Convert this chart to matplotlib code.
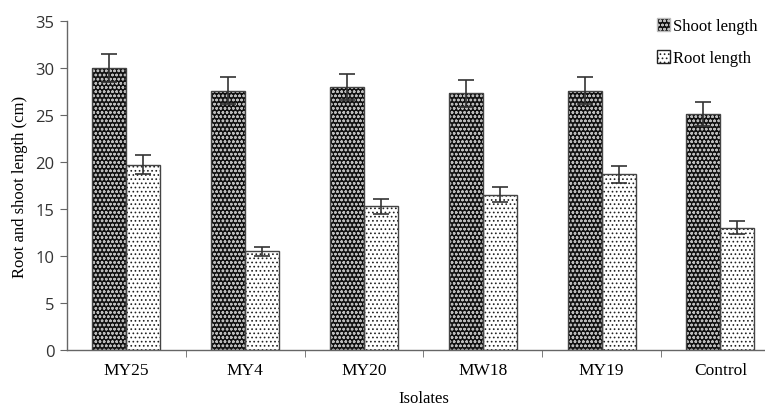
import matplotlib
matplotlib.use("Agg")
import matplotlib.pyplot as plt
import numpy as np
from matplotlib.patches import Patch

categories = ["MY25", "MY4", "MY20", "MW18", "MY19", "Control"]
shoot = [30.0, 27.6, 28.0, 27.3, 27.6, 25.1]
shoot_err = [1.5, 1.4, 1.4, 1.4, 1.4, 1.3]
root = [19.7, 10.5, 15.3, 16.5, 18.7, 13.0]
root_err = [1.0, 0.5, 0.8, 0.8, 0.9, 0.7]

plt.rcParams['hatch.linewidth'] = 0.7
fig = plt.figure(figsize=(7.65, 4.06), dpi=100)
W = 118.8
ax = fig.add_axes([67/765, 55/406, 6*W/765, 329/406])

x = np.arange(len(categories))
bw = 0.286
# shoot bars: dark with light pattern
ax.bar(x - bw/2, shoot, bw, color='#111111', edgecolor='#bbbbbb', hatch='oooo', linewidth=0, zorder=2)
ax.bar(x - bw/2, shoot, bw, fill=False, edgecolor='#444444', linewidth=1.0, zorder=3)
# root bars: white with dots
ax.bar(x + bw/2, root, bw, color='white', edgecolor='#222222', hatch='....', linewidth=0, zorder=2)
ax.bar(x + bw/2, root, bw, fill=False, edgecolor='#444444', linewidth=1.0, zorder=3)

ax.errorbar(x - bw/2, shoot, yerr=shoot_err, fmt='none', ecolor='#333333', elinewidth=1.2, capsize=6, capthick=1.2, zorder=4)
ax.errorbar(x + bw/2, root, yerr=root_err, fmt='none', ecolor='#333333', elinewidth=1.2, capsize=6, capthick=1.2, zorder=4)

ax.set_xlim(-0.5, len(categories) - 0.5)
ax.set_ylim(0, 35)
ax.set_yticks(range(0, 36, 5))
ax.set_xticks(x)
ax.set_xticklabels(categories, fontfamily='Liberation Serif', fontsize=12.5)
ax.set_xticks(np.arange(0.5, len(categories) - 0.5, 1), minor=True)
ax.tick_params(axis='x', which='major', length=0, pad=9)
ax.tick_params(axis='x', which='minor', length=5, color='#666666', direction='out')
ax.tick_params(axis='y', length=5, color='#666666', labelsize=12, pad=4)
for lab in ax.get_yticklabels():
    lab.set_fontfamily('Open Sans')
    lab.set_color('#333333')

for s in ['top', 'right']:
    ax.spines[s].set_visible(False)
for s in ['left', 'bottom']:
    ax.spines[s].set_color('#666666')
    ax.spines[s].set_linewidth(1.0)

ax.set_xlabel("Isolates", fontfamily='Liberation Serif', fontsize=12, labelpad=8)
ax.set_ylabel("Root and shoot length (cm)", fontfamily='Liberation Serif', fontsize=12)
ax.yaxis.set_label_coords((28 - 67) / (6 * W), 0.5)

handles = [Patch(facecolor='#111111', edgecolor='#bbbbbb', hatch='oooo'),
           Patch(facecolor='white', edgecolor='#222222', hatch='....')]
fig.legend(handles, ["Shoot length", "Root length"], loc='upper left',
           bbox_to_anchor=(657/765, 1 - 19/406), frameon=False,
           borderpad=0, borderaxespad=0,
           prop={'family': 'Liberation Serif', 'size': 12},
           handlelength=0.8, handleheight=0.8, handletextpad=0.15, labelspacing=0.95)

fig.savefig("out.png", dpi=100)
